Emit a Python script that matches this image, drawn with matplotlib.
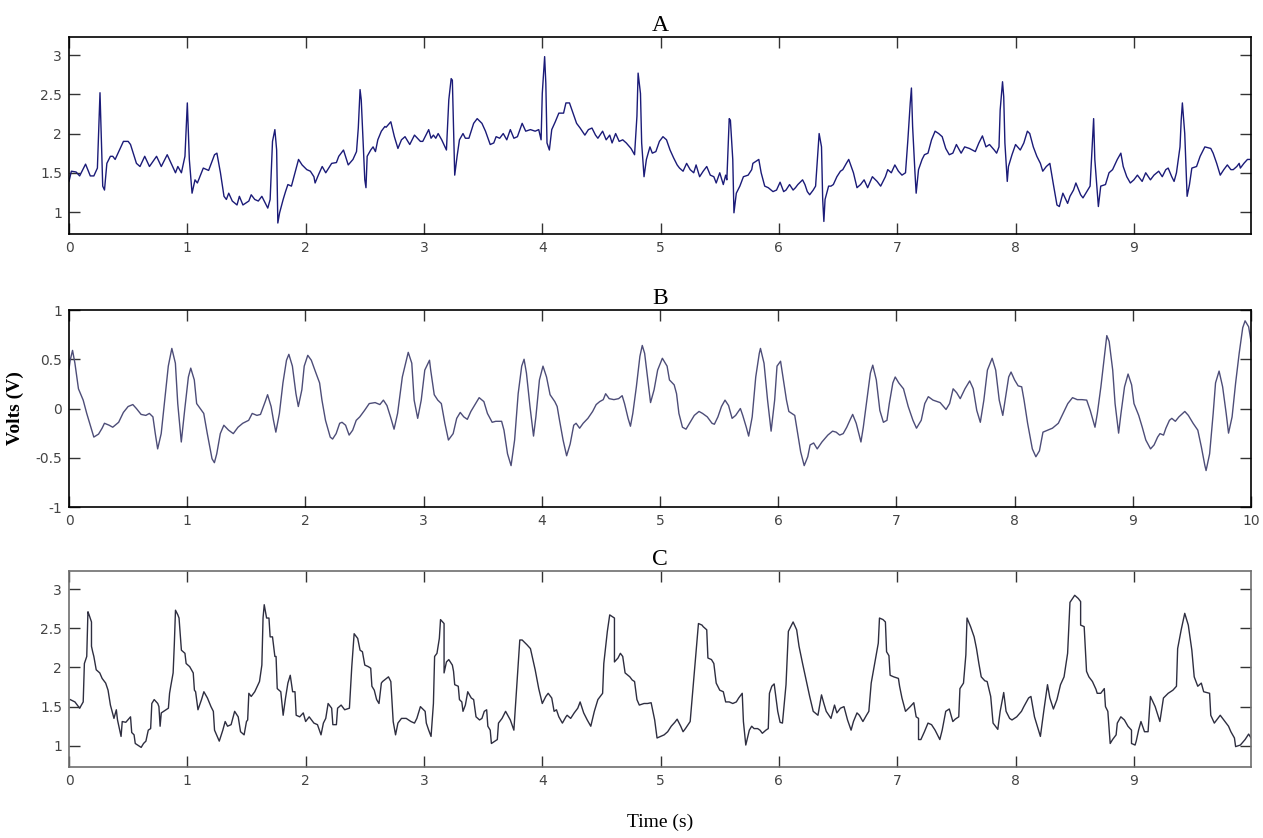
import matplotlib
matplotlib.use("Agg")
import matplotlib.pyplot as plt

# ---- panel A (seconds, volts) ----
a_t = [0.00, 0.02, 0.06, 0.09, 0.14, 0.18, 0.21, 0.24, 0.262, 0.285, 0.30, 0.32, 0.35, 0.37, 0.39,
       0.42, 0.46, 0.50, 0.52, 0.57, 0.60, 0.64, 0.68, 0.74, 0.78, 0.83, 0.90, 0.92, 0.95, 0.98,
       1.00, 1.017, 1.04, 1.065, 1.085, 1.135, 1.18, 1.23, 1.25, 1.28, 1.31, 1.33, 1.35, 1.38, 1.42,
       1.44, 1.47, 1.52, 1.54, 1.57, 1.60, 1.63, 1.68, 1.70, 1.72, 1.74, 1.755, 1.765, 1.78, 1.81,
       1.83, 1.85, 1.88, 1.91, 1.94, 1.97, 2.01, 2.04, 2.07, 2.08, 2.11, 2.14, 2.17, 2.22, 2.26,
       2.28, 2.32, 2.36, 2.40, 2.43, 2.445, 2.46, 2.47, 2.50, 2.51, 2.52, 2.55, 2.57, 2.59, 2.61,
       2.64, 2.67, 2.68, 2.72, 2.75, 2.78, 2.81, 2.84, 2.88, 2.92, 2.97, 2.99,
       3.04, 3.06, 3.08, 3.10, 3.12, 3.15, 3.19, 3.21, 3.23, 3.24, 3.25, 3.26, 3.28, 3.30, 3.33,
       3.35, 3.38, 3.42, 3.45, 3.49, 3.52, 3.56, 3.59, 3.61, 3.64, 3.67, 3.70, 3.73, 3.76, 3.79,
       3.83, 3.86, 3.90, 3.94, 3.97, 3.99, 4.00, 4.02, 4.03, 4.04, 4.06, 4.08, 4.11, 4.14, 4.18,
       4.20, 4.23, 4.26, 4.29, 4.32, 4.36, 4.39, 4.42, 4.45, 4.47, 4.51, 4.54, 4.57, 4.59, 4.62,
       4.65, 4.68, 4.71, 4.75, 4.78, 4.80, 4.81, 4.83, 4.84, 4.86, 4.88, 4.91, 4.93, 4.96, 4.99,
       5.02, 5.05, 5.08, 5.11, 5.14, 5.16, 5.19, 5.22, 5.25, 5.28, 5.30, 5.33, 5.36, 5.39, 5.42,
       5.45, 5.47, 5.50, 5.53, 5.55, 5.56, 5.58, 5.59, 5.61, 5.62, 5.64, 5.67, 5.70, 5.74, 5.77,
       5.78, 5.83, 5.85, 5.88, 5.91, 5.95, 5.98, 6.01, 6.04, 6.06, 6.09, 6.12, 6.14, 6.16, 6.20,
       6.22, 6.24, 6.26, 6.29, 6.31, 6.33, 6.34, 6.36, 6.37, 6.38, 6.39, 6.42, 6.44, 6.46, 6.49,
       6.52, 6.54, 6.57, 6.59, 6.63, 6.66, 6.69, 6.72, 6.75, 6.79, 6.83, 6.86, 6.90, 6.92, 6.95,
       6.98, 7.01, 7.04, 7.07, 7.09, 7.11, 7.12, 7.13, 7.15, 7.16, 7.18, 7.21, 7.23, 7.26, 7.29,
       7.32, 7.35, 7.38, 7.41, 7.44, 7.47, 7.50, 7.54, 7.57, 7.61, 7.66, 7.69, 7.72, 7.75, 7.78,
       7.82, 7.84, 7.86, 7.87, 7.89, 7.90, 7.91, 7.93, 7.94, 7.97, 8.00, 8.04, 8.07, 8.10, 8.12,
       8.15, 8.18, 8.21, 8.23, 8.26, 8.29, 8.32, 8.35, 8.37, 8.40, 8.44, 8.46, 8.49, 8.51, 8.55,
       8.57, 8.61, 8.63, 8.64, 8.66, 8.67, 8.70, 8.72, 8.76, 8.79, 8.82, 8.86, 8.89, 8.91, 8.94,
       8.97, 9.00, 9.03, 9.07, 9.10, 9.14, 9.17, 9.21, 9.24, 9.27, 9.29, 9.32, 9.34, 9.36, 9.39,
       9.40, 9.41, 9.43, 9.45, 9.47, 9.49, 9.53, 9.56, 9.60, 9.65, 9.67, 9.70, 9.73, 9.76, 9.79,
       9.82, 9.84, 9.87, 9.89, 9.90, 9.93, 9.96, 9.98]
a_v = [1.39, 1.52, 1.51, 1.46, 1.61, 1.46, 1.46, 1.56, 2.52, 1.33, 1.28, 1.62, 1.71, 1.71, 1.67,
       1.77, 1.90, 1.90, 1.86, 1.62, 1.58, 1.71, 1.58, 1.71, 1.58, 1.73, 1.50, 1.58, 1.50, 1.71,
       2.39, 1.67, 1.24, 1.41, 1.37, 1.56, 1.53, 1.73, 1.75, 1.50, 1.20, 1.16, 1.24, 1.14, 1.09,
       1.20, 1.09, 1.14, 1.22, 1.16, 1.14, 1.20, 1.05, 1.16, 1.90, 2.05, 1.79, 0.86, 0.99, 1.16,
       1.26, 1.35, 1.33, 1.50, 1.67, 1.60, 1.54, 1.52, 1.45, 1.37, 1.48, 1.58, 1.50, 1.62, 1.63,
       1.71, 1.79, 1.60, 1.67, 1.77, 2.07, 2.56, 2.43, 1.41, 1.31, 1.71, 1.79, 1.83, 1.77, 1.92,
       2.03, 2.09, 2.08, 2.15, 1.96, 1.81, 1.92, 1.96, 1.86, 1.98, 1.90, 1.90,
       2.05, 1.94, 1.98, 1.94, 2.00, 1.92, 1.79, 2.43, 2.70, 2.68, 2.05, 1.47, 1.71, 1.92, 2.00,
       1.94, 1.94, 2.13, 2.19, 2.13, 2.03, 1.86, 1.88, 1.96, 1.94, 2.00, 1.92, 2.05, 1.94, 1.96,
       2.13, 2.03, 2.05, 2.03, 2.05, 1.92, 2.51, 2.98, 2.64, 1.88, 1.79, 2.05, 2.15, 2.26, 2.26,
       2.39, 2.39, 2.26, 2.13, 2.07, 1.98, 2.05, 2.07, 1.98, 1.94, 2.03, 1.92, 1.98, 1.88, 2.00,
       1.90, 1.92, 1.88, 1.81, 1.73, 2.22, 2.77, 2.51, 1.88, 1.45, 1.67, 1.83, 1.75, 1.77, 1.90,
       1.96, 1.92, 1.79, 1.69, 1.60, 1.56, 1.52, 1.62, 1.54, 1.50, 1.60, 1.45, 1.52, 1.58, 1.47,
       1.45, 1.37, 1.50, 1.35, 1.47, 1.41, 2.19, 2.17, 1.67, 0.99, 1.24, 1.33, 1.45, 1.47, 1.54,
       1.62, 1.67, 1.50, 1.33, 1.31, 1.26, 1.28, 1.38, 1.26, 1.28, 1.35, 1.28, 1.31, 1.35, 1.41,
       1.35, 1.26, 1.22, 1.28, 1.33, 1.79, 2.00, 1.83, 1.16, 0.88, 1.16, 1.33, 1.33, 1.35, 1.45,
       1.52, 1.54, 1.62, 1.67, 1.50, 1.31, 1.35, 1.41, 1.31, 1.45, 1.39, 1.33, 1.45, 1.54, 1.50,
       1.60, 1.52, 1.47, 1.50, 1.92, 2.39, 2.58, 2.09, 1.50, 1.24, 1.54, 1.67, 1.73, 1.75, 1.92,
       2.03, 2.00, 1.96, 1.81, 1.73, 1.75, 1.86, 1.75, 1.83, 1.81, 1.77, 1.88, 1.97, 1.83, 1.86,
       1.79, 1.75, 1.83, 2.30, 2.66, 2.47, 1.88, 1.39, 1.58, 1.73, 1.86, 1.79, 1.88, 2.03, 2.00,
       1.83, 1.71, 1.62, 1.52, 1.58, 1.62, 1.35, 1.09, 1.07, 1.24, 1.11, 1.20, 1.28, 1.37, 1.22,
       1.18, 1.28, 1.33, 1.62, 2.19, 1.67, 1.07, 1.33, 1.35, 1.50, 1.54, 1.67, 1.75, 1.58, 1.45,
       1.37, 1.41, 1.47, 1.39, 1.50, 1.41, 1.47, 1.52, 1.45, 1.54, 1.56, 1.45, 1.39, 1.50, 1.83,
       2.17, 2.39, 2.00, 1.20, 1.35, 1.56, 1.58, 1.71, 1.83, 1.81, 1.75, 1.62, 1.47, 1.54, 1.60,
       1.54, 1.54, 1.58, 1.62, 1.56, 1.62, 1.67, 1.67]

# ---- panel B ----
b_t = [0.00, 0.01, 0.03, 0.05, 0.08, 0.12, 0.15, 0.18, 0.21, 0.25, 0.28, 0.30, 0.34, 0.37, 0.42,
       0.46, 0.50, 0.54, 0.57, 0.61, 0.65, 0.68, 0.71, 0.73, 0.75, 0.78, 0.81, 0.84, 0.87, 0.90,
       0.92, 0.95, 0.98, 1.01, 1.03, 1.06, 1.08, 1.11, 1.14, 1.17, 1.21, 1.23, 1.25, 1.28, 1.31,
       1.35, 1.39, 1.43, 1.47, 1.52, 1.55, 1.59, 1.62, 1.66, 1.68, 1.71, 1.73, 1.75, 1.78, 1.81,
       1.84, 1.86, 1.89, 1.92, 1.94, 1.97, 1.99, 2.02, 2.05, 2.08, 2.12, 2.14, 2.17, 2.21, 2.23,
       2.26, 2.29, 2.31, 2.34, 2.37, 2.40, 2.43, 2.46, 2.50, 2.54, 2.59, 2.63, 2.66, 2.69, 2.72,
       2.75, 2.78, 2.82, 2.87, 2.90, 2.92, 2.95, 2.98, 3.01,
       3.05, 3.06, 3.09, 3.12, 3.15, 3.18, 3.21, 3.25, 3.28, 3.31, 3.34, 3.37, 3.40, 3.44, 3.47,
       3.51, 3.54, 3.58, 3.61, 3.66, 3.68, 3.71, 3.74, 3.77, 3.80, 3.83, 3.85, 3.87, 3.90, 3.93,
       3.95, 3.98, 4.01, 4.04, 4.07, 4.11, 4.13, 4.15, 4.18, 4.21, 4.24, 4.27, 4.29, 4.32, 4.35,
       4.39, 4.43, 4.46, 4.49, 4.52, 4.54, 4.57, 4.61, 4.65, 4.68, 4.70, 4.73, 4.75, 4.77, 4.80,
       4.83, 4.85, 4.87, 4.90, 4.92, 4.95, 4.98, 5.02, 5.06, 5.08, 5.12, 5.14, 5.16, 5.19, 5.22,
       5.25, 5.29, 5.33, 5.36, 5.40, 5.44, 5.46, 5.49, 5.52, 5.55, 5.58, 5.61, 5.64, 5.68, 5.70,
       5.73, 5.75, 5.78, 5.81, 5.84, 5.85, 5.88, 5.91, 5.94, 5.97, 5.99, 6.02, 6.04, 6.07, 6.09,
       6.14, 6.16, 6.19, 6.22, 6.25, 6.27, 6.30, 6.33, 6.37, 6.42, 6.46, 6.49, 6.52,
       6.55, 6.58, 6.61, 6.63, 6.66, 6.70, 6.72, 6.75, 6.78, 6.80, 6.83, 6.86, 6.89, 6.92, 6.94,
       6.97, 6.99, 7.02, 7.06, 7.10, 7.14, 7.17, 7.21, 7.24, 7.27, 7.31, 7.37, 7.42, 7.45, 7.48,
       7.51, 7.54, 7.58, 7.62, 7.65, 7.68, 7.71, 7.74, 7.77, 7.81, 7.84, 7.87, 7.90, 7.92, 7.95,
       7.97, 8.00, 8.03, 8.06, 8.08, 8.11, 8.15, 8.18, 8.21, 8.24, 8.28, 8.32, 8.37, 8.41, 8.45,
       8.49, 8.53, 8.57, 8.61, 8.64, 8.68, 8.70, 8.73, 8.76, 8.78, 8.80, 8.83, 8.85, 8.88, 8.90,
       8.93, 8.96, 8.99, 9.01, 9.05, 9.08, 9.11, 9.15, 9.18, 9.21, 9.23, 9.26, 9.28, 9.31, 9.33,
       9.36, 9.39, 9.44, 9.47, 9.51, 9.55, 9.58, 9.61, 9.62, 9.65, 9.68, 9.70, 9.73, 9.76, 9.79,
       9.81, 9.84, 9.87, 9.90, 9.93, 9.95, 9.98, 10.0]
b_v = [0.40, 0.49, 0.59, 0.46, 0.20, 0.085, -0.05, -0.17, -0.29, -0.26, -0.20, -0.15, -0.17, -0.19, -0.14,
       -0.04, 0.02, 0.04, 0.00, -0.06, -0.07, -0.05, -0.085, -0.255, -0.41, -0.255, 0.085, 0.43, 0.61, 0.46,
       0.05, -0.34, 0.00, 0.32, 0.41, 0.29, 0.05, 0.00, -0.05, -0.255, -0.51, -0.55, -0.46, -0.255, -0.17,
       -0.22, -0.255, -0.19, -0.15, -0.12, -0.05, -0.07, -0.06, 0.07, 0.14, 0.02, -0.12, -0.24, -0.05, 0.26,
       0.49, 0.55, 0.43, 0.15, 0.02, 0.19, 0.43, 0.54, 0.49, 0.39, 0.26, 0.085, -0.12, -0.29, -0.31,
       -0.255, -0.15, -0.14, -0.17, -0.27, -0.22, -0.12, -0.085, -0.02, 0.05, 0.06, 0.04, 0.085, 0.03, -0.085,
       -0.21, -0.05, 0.32, 0.57, 0.46, 0.085, -0.10, 0.085, 0.39,
       0.49, 0.39, 0.14, 0.085, 0.05, -0.15, -0.32, -0.255, -0.10, -0.04, -0.085, -0.11, -0.03, 0.05, 0.11,
       0.07, -0.05, -0.14, -0.13, -0.13, -0.22, -0.46, -0.58, -0.32, 0.15, 0.43, 0.50, 0.36, 0.02, -0.28,
       -0.085, 0.29, 0.43, 0.32, 0.14, 0.07, 0.02, -0.12, -0.32, -0.48, -0.36, -0.17, -0.15, -0.20, -0.15,
       -0.10, -0.03, 0.04, 0.07, 0.09, 0.15, 0.10, 0.09, 0.10, 0.13, 0.05, -0.10, -0.18, -0.05, 0.22,
       0.53, 0.64, 0.56, 0.26, 0.06, 0.19, 0.39, 0.51, 0.43, 0.29, 0.24, 0.15, -0.05, -0.19, -0.21,
       -0.15, -0.07, -0.03, -0.05, -0.085, -0.15, -0.16, -0.085, 0.02, 0.085, 0.03, -0.10, -0.07, 0.00, -0.07,
       -0.19, -0.28, -0.085, 0.32, 0.56, 0.61, 0.46, 0.085, -0.23, 0.085, 0.43, 0.48, 0.32, 0.085, -0.03,
       -0.07, -0.22, -0.44, -0.58, -0.49, -0.37, -0.35, -0.41, -0.34, -0.27, -0.23, -0.24, -0.27,
       -0.255, -0.19, -0.11, -0.06, -0.15, -0.34, -0.19, 0.085, 0.36, 0.44, 0.29, -0.02, -0.14, -0.12, 0.05,
       0.26, 0.32, 0.26, 0.20, 0.02, -0.12, -0.20, -0.12, 0.05, 0.12, 0.085, 0.06, -0.01, 0.05, 0.20,
       0.16, 0.10, 0.20, 0.28, 0.20, -0.02, -0.14, 0.085, 0.39, 0.51, 0.39, 0.085, -0.07, 0.085, 0.32,
       0.37, 0.29, 0.23, 0.22, 0.085, -0.15, -0.41, -0.49, -0.43, -0.24, -0.22, -0.20, -0.15, -0.05, 0.05,
       0.11, 0.09, 0.09, 0.085, -0.02, -0.19, -0.05, 0.22, 0.53, 0.74, 0.68, 0.39, 0.05, -0.25, -0.05,
       0.22, 0.35, 0.24, 0.05, -0.07, -0.19, -0.32, -0.41, -0.37, -0.29, -0.255, -0.27, -0.20, -0.12, -0.10,
       -0.13, -0.085, -0.03, -0.07, -0.15, -0.22, -0.39, -0.58, -0.63, -0.46, -0.05, 0.26, 0.38, 0.22, -0.05,
       -0.25, -0.085, 0.26, 0.56, 0.82, 0.89, 0.83, 0.68]

# ---- panel C ----
c_t = [0.01, 0.05, 0.09, 0.12, 0.13, 0.15, 0.16, 0.17, 0.19, 0.19, 0.20, 0.21, 0.23, 0.26, 0.28,
       0.31, 0.33, 0.35, 0.38, 0.40, 0.41, 0.44, 0.45, 0.48, 0.52, 0.53, 0.55, 0.56, 0.58, 0.61,
       0.63, 0.65, 0.67, 0.69, 0.70, 0.72, 0.75, 0.76, 0.77, 0.78, 0.82, 0.84, 0.85, 0.86, 0.88,
       0.89, 0.90, 0.92, 0.93, 0.95, 0.98, 0.99, 1.02, 1.05, 1.06, 1.07, 1.09, 1.12, 1.14, 1.17,
       1.20, 1.22, 1.23, 1.27, 1.30, 1.32, 1.34, 1.37, 1.40, 1.43, 1.45, 1.48, 1.50, 1.51, 1.52,
       1.54, 1.57, 1.61, 1.63, 1.64, 1.65, 1.67, 1.69, 1.70, 1.72, 1.74, 1.75, 1.76, 1.79, 1.81,
       1.83, 1.85, 1.87, 1.89, 1.91, 1.92, 1.95, 1.98, 2.00, 2.03, 2.07, 2.10, 2.13, 2.15, 2.17,
       2.19, 2.22, 2.23, 2.26, 2.27, 2.30, 2.33, 2.37, 2.39, 2.41, 2.44, 2.46, 2.48, 2.50, 2.53,
       2.55, 2.56, 2.58, 2.60, 2.62, 2.64, 2.65, 2.70, 2.72, 2.74, 2.76, 2.78, 2.81, 2.85, 2.89,
       2.92, 2.94, 2.97, 3.01,
       3.02, 3.04, 3.06, 3.08, 3.09, 3.11, 3.13, 3.14, 3.17, 3.17, 3.19, 3.21, 3.24, 3.25, 3.26,
       3.29, 3.30, 3.32, 3.33, 3.35, 3.37, 3.40, 3.42, 3.44, 3.47, 3.49, 3.51, 3.53, 3.54, 3.56,
       3.57, 3.60, 3.62, 3.63, 3.66, 3.69, 3.73, 3.76, 3.79, 3.81, 3.83, 3.87, 3.90, 3.94, 3.97,
       4.00, 4.03, 4.05, 4.08, 4.10, 4.12, 4.14, 4.17, 4.20, 4.21, 4.24, 4.27, 4.30, 4.32, 4.35,
       4.38, 4.41, 4.44, 4.47, 4.51, 4.52, 4.55, 4.57, 4.59, 4.61, 4.61, 4.64, 4.66, 4.68, 4.70,
       4.74, 4.76, 4.78, 4.80, 4.82, 4.86, 4.89, 4.92, 4.95, 4.97, 5.00, 5.03, 5.06, 5.09, 5.12,
       5.14, 5.17, 5.19, 5.21, 5.25, 5.28, 5.32, 5.35, 5.36, 5.39, 5.40, 5.43, 5.45, 5.47, 5.50,
       5.53, 5.55, 5.58, 5.61, 5.64, 5.66, 5.69, 5.70, 5.72, 5.75, 5.77, 5.79, 5.82, 5.84, 5.86,
       5.89, 5.91, 5.92, 5.94, 5.96, 5.99, 6.01, 6.03, 6.06, 6.08, 6.10, 6.12, 6.15, 6.17, 6.20,
       6.23, 6.26, 6.29, 6.33, 6.36, 6.38, 6.40, 6.44, 6.47, 6.49, 6.52, 6.55, 6.58, 6.61,
       6.63, 6.66, 6.68, 6.71, 6.74, 6.76, 6.78, 6.82, 6.84, 6.85, 6.88, 6.90, 6.91, 6.93, 6.94,
       6.97, 7.01, 7.02, 7.04, 7.07, 7.11, 7.14, 7.16, 7.18, 7.18, 7.20, 7.23, 7.26, 7.29, 7.32,
       7.36, 7.38, 7.41, 7.44, 7.47, 7.49, 7.52, 7.53, 7.56, 7.58, 7.59, 7.62, 7.65, 7.67, 7.69,
       7.71, 7.74, 7.76, 7.79, 7.81, 7.85, 7.87, 7.90, 7.92, 7.95, 7.97, 8.01, 8.05, 8.07, 8.11,
       8.13, 8.16, 8.19, 8.21, 8.24, 8.27, 8.29, 8.32, 8.35, 8.38, 8.41, 8.44, 8.46, 8.50, 8.53,
       8.55, 8.55, 8.58, 8.60, 8.62, 8.65, 8.68, 8.69, 8.72, 8.75, 8.76, 8.78, 8.80, 8.82, 8.85,
       8.86, 8.89, 8.92, 8.95, 8.98, 8.98, 9.01, 9.02, 9.04, 9.06, 9.09, 9.12, 9.14, 9.18, 9.22,
       9.25, 9.29, 9.33, 9.36, 9.37, 9.40, 9.43, 9.46, 9.49, 9.51, 9.54, 9.57, 9.59, 9.64, 9.65,
       9.68, 9.73, 9.76, 9.80, 9.82, 9.85, 9.86, 9.90, 9.94, 9.97, 9.99]
c_v = [1.59, 1.56, 1.48, 1.56, 2.05, 2.14, 2.71, 2.67, 2.58, 2.27, 2.20, 2.14, 1.97, 1.93, 1.86,
       1.80, 1.71, 1.52, 1.35, 1.46, 1.33, 1.12, 1.31, 1.30, 1.37, 1.17, 1.14, 1.03, 1.01, 0.98,
       1.03, 1.06, 1.20, 1.22, 1.54, 1.59, 1.54, 1.50, 1.25, 1.42, 1.46, 1.48, 1.67, 1.76, 1.93,
       2.29, 2.73, 2.67, 2.63, 2.22, 2.18, 2.05, 2.01, 1.93, 1.71, 1.69, 1.46, 1.59, 1.69, 1.61,
       1.50, 1.44, 1.20, 1.06, 1.20, 1.31, 1.25, 1.27, 1.44, 1.37, 1.18, 1.14, 1.31, 1.33, 1.67,
       1.63, 1.69, 1.82, 2.03, 2.63, 2.80, 2.63, 2.63, 2.39, 2.39, 2.14, 2.14, 1.73, 1.69, 1.39,
       1.61, 1.80, 1.90, 1.69, 1.69, 1.39, 1.37, 1.42, 1.31, 1.37, 1.29, 1.27, 1.14, 1.29, 1.35,
       1.54, 1.48, 1.27, 1.27, 1.48, 1.52, 1.46, 1.48, 2.01, 2.43, 2.37, 2.22, 2.20, 2.03, 2.01,
       1.99, 1.76, 1.71, 1.59, 1.54, 1.80, 1.82, 1.88, 1.82, 1.31, 1.14, 1.29, 1.35, 1.35, 1.31,
       1.29, 1.35, 1.50, 1.44,
       1.29, 1.20, 1.12, 1.54, 2.14, 2.18, 2.37, 2.61, 2.56, 1.93, 2.07, 2.10, 2.03, 1.95, 1.78,
       1.76, 1.59, 1.56, 1.44, 1.52, 1.69, 1.61, 1.59, 1.37, 1.33, 1.35, 1.44, 1.46, 1.25, 1.20,
       1.03, 1.06, 1.08, 1.29, 1.35, 1.44, 1.33, 1.20, 1.88, 2.35, 2.35, 2.29, 2.24, 1.97, 1.73,
       1.54, 1.63, 1.67, 1.61, 1.44, 1.46, 1.37, 1.29, 1.37, 1.39, 1.35, 1.42, 1.48, 1.56, 1.42,
       1.33, 1.25, 1.44, 1.59, 1.67, 2.05, 2.46, 2.67, 2.65, 2.63, 2.07, 2.12, 2.18, 2.14, 1.93,
       1.88, 1.84, 1.82, 1.59, 1.52, 1.54, 1.54, 1.55, 1.33, 1.10, 1.12, 1.14, 1.18, 1.25, 1.30,
       1.34, 1.25, 1.18, 1.22, 1.31, 1.84, 2.56, 2.54, 2.52, 2.48, 2.12, 2.10, 2.05, 1.80, 1.71,
       1.69, 1.56, 1.56, 1.54, 1.56, 1.61, 1.67, 1.31, 1.01, 1.20, 1.25, 1.22, 1.22, 1.20, 1.16,
       1.20, 1.22, 1.67, 1.76, 1.79, 1.44, 1.30, 1.29, 1.78, 2.46, 2.52, 2.58, 2.48, 2.27, 2.05,
       1.84, 1.63, 1.44, 1.39, 1.65, 1.54, 1.44, 1.35, 1.52, 1.42, 1.48, 1.50, 1.33, 1.20,
       1.31, 1.42, 1.39, 1.31, 1.39, 1.44, 1.80, 2.14, 2.31, 2.63, 2.61, 2.58, 2.20, 2.15, 1.90,
       1.88, 1.86, 1.76, 1.61, 1.44, 1.50, 1.55, 1.37, 1.35, 1.08, 1.08, 1.18, 1.29, 1.27, 1.20,
       1.08, 1.20, 1.44, 1.47, 1.31, 1.34, 1.37, 1.73, 1.80, 2.16, 2.63, 2.52, 2.39, 2.24, 2.05,
       1.88, 1.83, 1.82, 1.63, 1.29, 1.21, 1.44, 1.68, 1.44, 1.35, 1.33, 1.37, 1.44, 1.50, 1.61,
       1.63, 1.37, 1.22, 1.12, 1.46, 1.78, 1.61, 1.47, 1.59, 1.78, 1.88, 2.18, 2.83, 2.92, 2.88,
       2.84, 2.54, 2.52, 1.95, 1.88, 1.82, 1.72, 1.67, 1.67, 1.73, 1.50, 1.44, 1.03, 1.08, 1.14,
       1.29, 1.37, 1.33, 1.25, 1.20, 1.03, 1.01, 1.06, 1.20, 1.31, 1.18, 1.18, 1.63, 1.50, 1.31,
       1.61, 1.67, 1.71, 1.76, 2.24, 2.48, 2.69, 2.54, 2.22, 1.88, 1.76, 1.80, 1.69, 1.67, 1.39,
       1.29, 1.39, 1.33, 1.25, 1.18, 1.10, 0.99, 1.01, 1.08, 1.15, 1.10]

titles = ["A", "B", "C"]
x_ticks_ac = [0, 1, 2, 3, 4, 5, 6, 7, 8, 9]
x_ticks_b = [0, 1, 2, 3, 4, 5, 6, 7, 8, 9, 10]
y_ticks_ac = [1, 1.5, 2, 2.5, 3]
y_ticks_b = [-1, -0.5, 0, 0.5, 1]

W, H = 1263, 838
fig = plt.figure(figsize=(W / 100, H / 100), dpi=100)

tick_font = ["Liberation Sans Narrow", "DejaVu Sans"]
serif = ["Liberation Serif", "DejaVu Serif"]


def make_axes(top_px, bot_px):
    return fig.add_axes([69 / W, 1 - bot_px / H, 1182 / W, (bot_px - top_px) / H])


def style(ax, xt, yt, spine_col):
    ax.set_xticks(xt)
    ax.set_yticks(yt)
    ax.set_xticklabels([f"{v:g}" for v in xt], family=tick_font, fontsize=10, color="#444444")
    ax.set_yticklabels([f"{v:g}" for v in yt], family=tick_font, fontsize=10, color="#444444")
    ax.tick_params(direction="in", top=True, right=True, length=8, width=1, color="#333333",
                   pad=5)
    for s in ax.spines.values():
        s.set_color(spine_col)
        s.set_linewidth(1.2)


series = [(a_t, a_v, "#1b1b78", 37, 234, (0.72, 3.23), (0, 9.99), x_ticks_ac, y_ticks_ac, "black"),
          (b_t, b_v, "#4d4d78", 310, 507, (-1, 1), (0, 10), x_ticks_b, y_ticks_b, "black"),
          (c_t, c_v, "#2e2e40", 571, 767, (0.73, 3.23), (0, 9.99), x_ticks_ac, y_ticks_ac, "#6e6e6e")]

axes = []
for (t, v, col, top, bot, ylim, xlim, xt, yt, sc), name in zip(series, titles):
    ax = make_axes(top, bot)
    ax.plot(t, v, color=col, lw=1.0)
    ax.set_xlim(*xlim)
    ax.set_ylim(*ylim)
    style(ax, xt, yt, sc)
    ax.set_title(name, family=serif, fontsize=17, pad=4)
    axes.append(ax)

axes[1].set_ylabel("Volts (V)", family=serif, fontsize=14, fontweight="bold", labelpad=8)
fig.text(0.5 + 0.5 * (69 - (W - 1251)) / W, 1 - 822 / H, "Time (s)", family=serif, fontsize=14,
         ha="center", va="center")

fig.savefig("out.png", dpi=100)
